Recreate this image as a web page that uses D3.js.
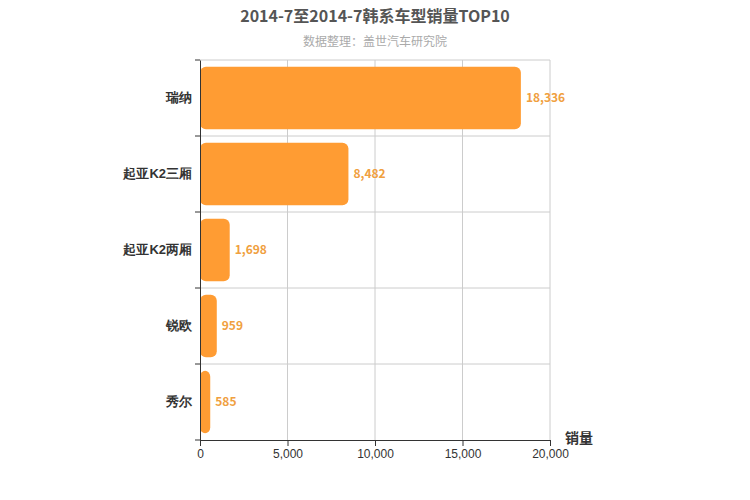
<!DOCTYPE html>
<html><head><meta charset="utf-8">
<script src="https://cdn.jsdelivr.net/npm/d3@7"></script>
<style>body{margin:0;background:#fff;font-family:"Noto Sans CJK SC","DejaVu Sans",sans-serif}</style>
</head><body><svg width="750" height="500"></svg>
<script>
const categories = ["瑞纳","起亚K2三厢","起亚K2两厢","锐欧","秀尔"];
const values = [18336, 8482, 1698, 959, 585];
const xTicks = [0,5000,10000,15000,20000];

const svg = d3.select("svg");
const m = {l:200, r:550, t:60, b:440};
const x = d3.scaleLinear().domain([0,20000]).range([m.l,m.r]);
const y = d3.scaleBand().domain(categories).range([m.t,m.b]).paddingInner(0.18).paddingOuter(0.09);
const yb = d3.scaleBand().domain(categories).range([m.t,m.b]);

svg.append("text").attr("x",375).attr("y",22).attr("text-anchor","middle")
  .attr("font-size",16).attr("font-weight","bold").attr("fill","#555").text("2014-7至2014-7韩系车型销量TOP10");
svg.append("text").attr("x",375).attr("y",46).attr("text-anchor","middle")
  .attr("font-size",12).attr("fill","#aaa").text("数据整理：盖世汽车研究院");

// grid
svg.append("g").selectAll("line").data(xTicks.slice(1)).join("line")
  .attr("x1",d=>x(d)).attr("x2",d=>x(d)).attr("y1",m.t).attr("y2",m.b).attr("stroke","#ccc");
svg.append("g").selectAll("line").data(categories).join("line")
  .attr("x1",m.l).attr("x2",m.r).attr("y1",d=>yb(d)).attr("y2",d=>yb(d)).attr("stroke","#ccc");

// bars
svg.append("g").selectAll("rect").data(values).join("rect")
  .attr("x",x(0)).attr("y",(d,i)=>y(categories[i])).attr("width",d=>x(d)-x(0))
  .attr("height",y.bandwidth()).attr("rx",6).attr("fill","#ff9c33");
svg.append("g").selectAll("text").data(values).join("text")
  .attr("x",d=>x(d)+5).attr("y",(d,i)=>y(categories[i])+y.bandwidth()/2+4)
  .attr("font-size",12).attr("font-weight","bold").attr("fill","#f0a040").text(d=>d3.format(",")(d));

// axes
const ya = svg.append("g").attr("transform",`translate(${m.l},0)`)
  .call(d3.axisLeft(yb).tickSize(0).tickPadding(8));
ya.select(".domain").attr("stroke","#333");
ya.selectAll("text").attr("font-size",13).attr("font-weight","bold").attr("fill","#333");
ya.selectAll(".bt").data(categories.concat(["_end"])).join("line")
  .attr("x1",-5).attr("x2",0).attr("y1",(d,i)=>m.t+i*yb.step()).attr("y2",(d,i)=>m.t+i*yb.step()).attr("stroke","#333");
const xa = svg.append("g").attr("transform",`translate(0,${m.b})`)
  .call(d3.axisBottom(x).tickValues(xTicks).tickFormat(d3.format(",")).tickSizeOuter(0));
xa.select(".domain").attr("stroke","#333");
xa.selectAll("line").attr("stroke","#333");
xa.selectAll("text").attr("font-size",12).attr("fill","#333");
svg.append("text").attr("x",565).attr("y",443).attr("font-size",14).attr("font-weight","bold").attr("fill","#333").text("销量");
</script></body></html>
